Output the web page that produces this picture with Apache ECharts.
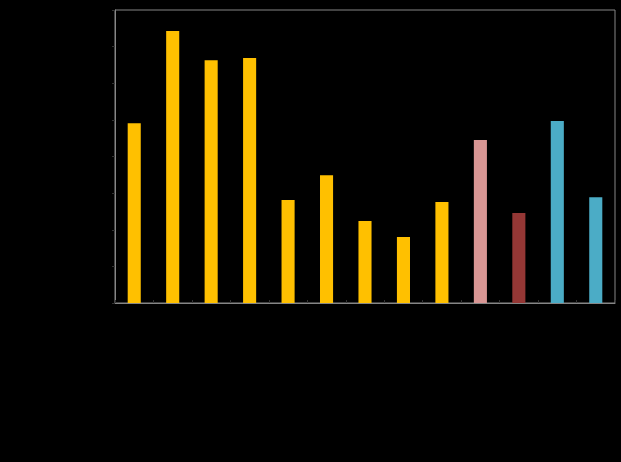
<!DOCTYPE html>
<html lang="en">
<head>
    <meta charset="UTF-8">
    <title>bar chart</title>
    <script src="https://cdn.jsdelivr.net/npm/echarts@6/dist/echarts.min.js"></script>
    <style>
        * { margin: 0; padding: 0; }
        html, body { width: 100%; height: 100%; background: #000; }
    </style>
</head>
<body>
    <div id="main" style="width: 621px;height:462px;"></div>
<script>
    // values (axis 0..80)
    var categories = ['1', '2', '3', '4', '5', '6', '7', '8', '9', '10', '11', '12', '13'];
    var values = [49.1, 74.3, 66.3, 66.9, 28.1, 34.9, 22.4, 18.0, 27.6, 44.5, 24.6, 49.7, 28.9];
    var barColors = ['#FFC000', '#FFC000', '#FFC000', '#FFC000', '#FFC000', '#FFC000', '#FFC000',
        '#FFC000', '#FFC000', '#D99694', '#953735', '#4BACC6', '#4BACC6'];
    var yTicks = [0, 10, 20, 30, 40, 50, 60, 70, 80];

    var myChart = echarts.init(document.getElementById('main'));
    myChart.setOption({
        backgroundColor: '#000',
        animation: false,
        grid: {
            left: 115,
            right: 6,
            top: 10,
            bottom: 159,
            show: true,
            borderColor: '#868686',
            borderWidth: 1
        },
        xAxis: {
            type: 'category',
            data: categories,
            axisLine: { lineStyle: { color: '#868686' } },
            axisTick: { show: true, inside: true, length: 3, lineStyle: { color: '#333' } },
            axisLabel: { show: false }
        },
        yAxis: {
            type: 'value',
            min: yTicks[0],
            max: yTicks[yTicks.length - 1],
            interval: yTicks[1] - yTicks[0],
            axisLine: { show: true, lineStyle: { color: '#868686' } },
            axisTick: { show: true, length: 3, lineStyle: { color: '#333' } },
            axisLabel: { show: false },
            splitLine: { show: false }
        },
        series: [{
            type: 'bar',
            barWidth: '34%',
            data: values.map(function (v, i) {
                return { value: v, itemStyle: { color: barColors[i] } };
            })
        }]
    });
</script>
</body>
</html>
